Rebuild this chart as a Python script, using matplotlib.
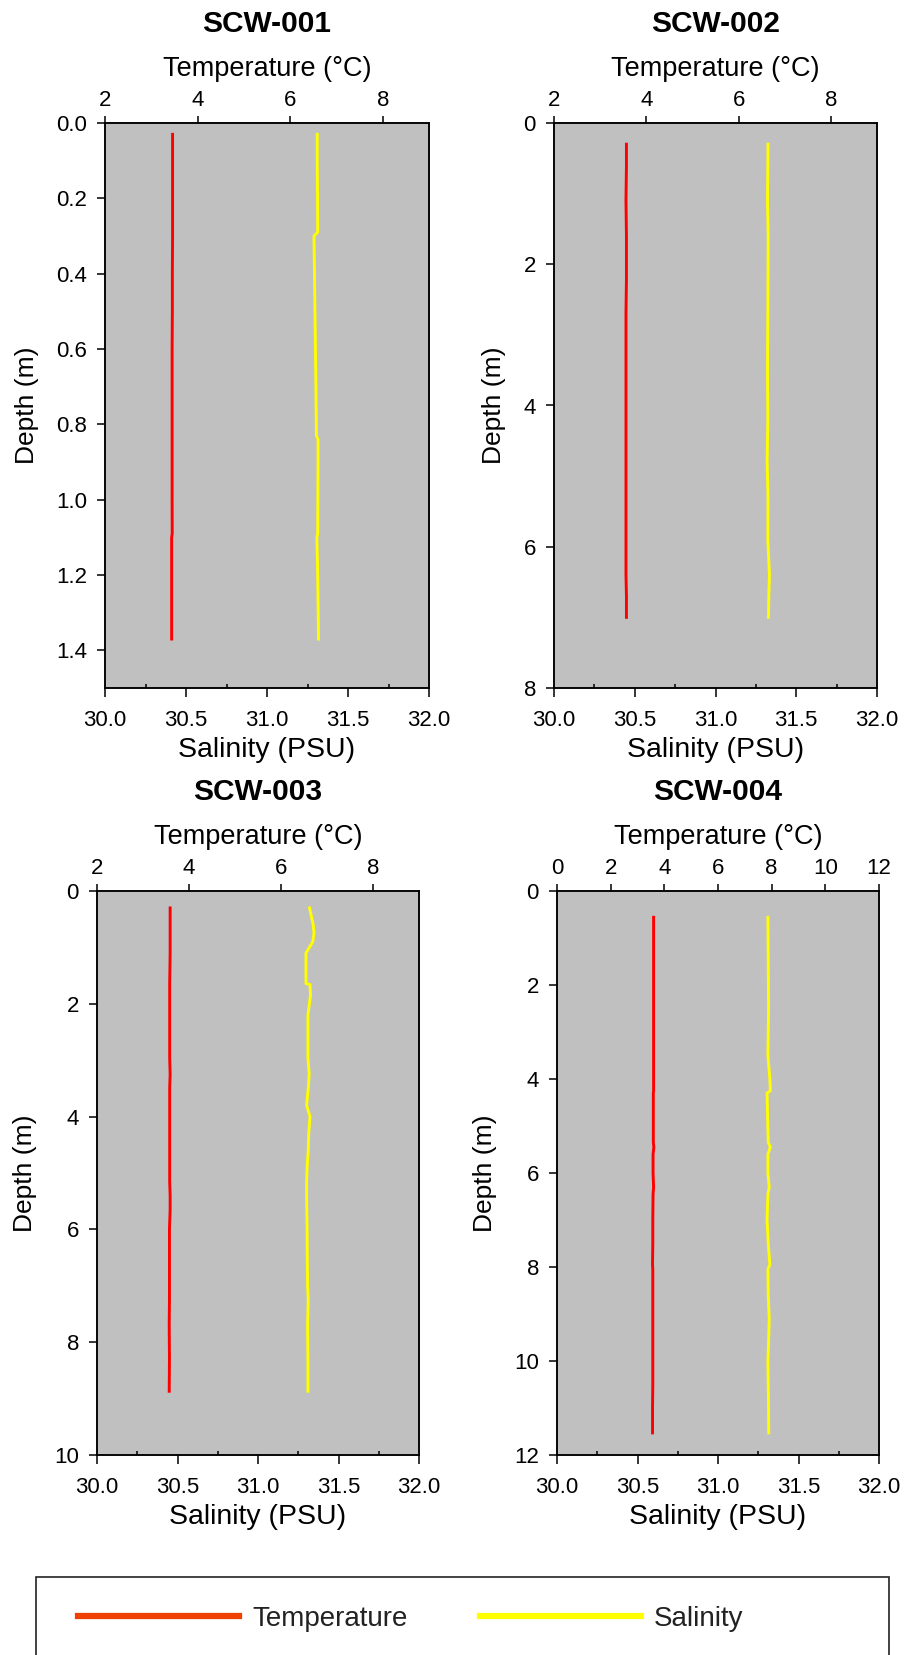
import matplotlib.pyplot as plt
from matplotlib.lines import Line2D
from matplotlib.patches import Rectangle
from matplotlib.ticker import MultipleLocator, FormatStrFormatter

plt.rcParams['font.family'] = ['Liberation Sans', 'DejaVu Sans']

# ---- data ----
stations = ['SCW-001', 'SCW-002', 'SCW-003', 'SCW-004']

depth1 = [0.03, 0.1, 0.2, 0.29, 0.30, 0.4, 0.5, 0.6, 0.7, 0.83, 0.84, 0.9, 1.0, 1.09, 1.10, 1.2, 1.3, 1.37]
temp1 = [3.46, 3.46, 3.46, 3.46, 3.46, 3.455, 3.455, 3.45, 3.45, 3.45, 3.45, 3.45, 3.45, 3.452, 3.44, 3.44, 3.44, 3.44]
sal1 = [31.31, 31.31, 31.312, 31.313, 31.29, 31.293, 31.296, 31.299, 31.302, 31.305, 31.315, 31.315,
        31.314, 31.313, 31.308, 31.313, 31.316, 31.318]

depth2 = [0.3, 0.6, 1.1, 1.6, 2.2, 2.7, 3.5, 4.2, 4.8, 5.3, 5.9, 6.4, 6.7, 7.0]
temp2 = [3.57, 3.57, 3.56, 3.57, 3.57, 3.56, 3.56, 3.56, 3.56, 3.56, 3.56, 3.56, 3.57, 3.57]
sal2 = [31.325, 31.324, 31.322, 31.326, 31.325, 31.324, 31.322, 31.324, 31.32, 31.325, 31.324, 31.334, 31.33, 31.328]

depth3 = [0.3, 0.6, 0.75, 0.9, 1.1, 1.4, 1.64, 1.66, 1.85, 2.2, 2.6, 2.95, 3.25, 3.5, 3.8, 4.0, 4.3,
          4.6, 4.9, 5.15, 5.4, 5.65, 6.0, 6.5, 7.0, 7.25, 7.7, 8.3, 8.87]
temp3 = [3.59, 3.59, 3.59, 3.59, 3.59, 3.585, 3.58, 3.58, 3.58, 3.58, 3.58, 3.58, 3.59, 3.58, 3.58,
         3.58, 3.58, 3.58, 3.58, 3.58, 3.59, 3.59, 3.575, 3.575, 3.575, 3.575, 3.57, 3.575, 3.57]
sal3 = [31.32, 31.343, 31.348, 31.34, 31.298, 31.298, 31.298, 31.323, 31.326, 31.31, 31.31, 31.31,
        31.318, 31.312, 31.302, 31.323, 31.315, 31.312, 31.305, 31.302, 31.302, 31.303, 31.305, 31.306,
        31.308, 31.312, 31.308, 31.31, 31.31]

depth4 = [0.56, 1.5, 2.5, 3.5, 4.0, 4.25, 4.3, 4.8, 5.35, 5.45, 5.6, 6.0, 6.3, 6.45, 7.0, 7.5, 7.95,
          8.05, 8.6, 9.1, 9.6, 10.0, 10.5, 11.0, 11.53]
temp4 = [3.6, 3.6, 3.6, 3.6, 3.6, 3.6, 3.59, 3.59, 3.59, 3.61, 3.58, 3.58, 3.6, 3.58, 3.57, 3.57,
         3.56, 3.57, 3.57, 3.57, 3.57, 3.57, 3.57, 3.56, 3.56]
sal4 = [31.31, 31.312, 31.314, 31.31, 31.322, 31.325, 31.305, 31.308, 31.312, 31.325, 31.31, 31.31,
        31.318, 31.31, 31.305, 31.312, 31.322, 31.31, 31.312, 31.318, 31.314, 31.31, 31.312, 31.314, 31.315]

depths = [depth1, depth2, depth3, depth4]
temps = [temp1, temp2, temp3, temp4]
sals = [sal1, sal2, sal3, sal4]

depth_max = [1.5, 8, 10, 12]
depth_step = [0.2, 2, 2, 2]
temp_lim = [(2, 9), (2, 9), (2, 9), (0, 12)]
sal_lim = (30, 32)

# axes boxes in pixels (left, top, right, bottom)
boxes = [(105, 123, 429, 688), (554, 123, 877, 688),
         (97, 891, 419, 1455), (557, 891, 879, 1455)]

W, H = 906, 1655
fig = plt.figure(figsize=(W / 100, H / 100), dpi=100)

for i in range(4):
    l, t, r, b = boxes[i]
    ax = fig.add_axes([l / W, 1 - b / H, (r - l) / W, (b - t) / H])
    ax.set_facecolor('#c0c0c0')
    ax.plot(sals[i], depths[i], color='#ffff00', lw=2.1, zorder=3)
    ax.set_xlim(*sal_lim)
    ax.set_ylim(depth_max[i], 0)
    ax.xaxis.set_major_locator(MultipleLocator(0.5))
    ax.xaxis.set_minor_locator(MultipleLocator(0.25))
    ax.xaxis.set_major_formatter(FormatStrFormatter('%.1f'))
    ax.yaxis.set_major_locator(MultipleLocator(depth_step[i]))
    if i == 0:
        ax.yaxis.set_major_formatter(FormatStrFormatter('%.1f'))
    ax.tick_params(axis='x', which='major', direction='out', length=6.5, width=1.1,
                   labelsize=16, pad=9.5)
    ax.tick_params(axis='x', which='minor', direction='in', length=3.2, width=1.1)
    ax.tick_params(axis='y', which='major', direction='out', length=6, width=1.1,
                   labelsize=16, pad=7)
    ax.tick_params(axis='y', which='minor', left=False)
    ax.set_xlabel('Salinity (PSU)', fontsize=20.5, labelpad=4)
    ax.set_ylabel('Depth (m)', fontsize=19, labelpad=12.5)
    for s in ax.spines.values():
        s.set_linewidth(1.1)

    tw = ax.twiny()
    tw.plot(temps[i], depths[i], color='#ff0000', lw=2.1, zorder=3)
    tw.set_xlim(*temp_lim[i])
    tw.xaxis.set_major_locator(MultipleLocator(2))
    tw.tick_params(axis='x', which='major', direction='out', length=5, width=1.1,
                   labelsize=16, pad=4)
    tw.set_xlabel('Temperature (°C)', fontsize=19.5, labelpad=9.5)
    for s in tw.spines.values():
        s.set_linewidth(1.1)

    ax.text(0.5, 1 + 91 / (b - t), stations[i], transform=ax.transAxes,
            ha='center', va='baseline', fontsize=21.5, fontweight='bold')

# legend box, runs off the bottom edge
fig.patches.append(Rectangle((36 / W, -0.02), (889 - 36) / W, 0.02 + 1 - 1577 / H,
                             transform=fig.transFigure, fill=False,
                             edgecolor='#222222', lw=1.2))
handles = [Line2D([], [], color='#f04000', lw=4.5),
           Line2D([], [], color='#ffff00', lw=4.5)]
fig.legend(handles, ['Temperature', 'Salinity'], loc='center left',
           bbox_to_anchor=(78 / W, 1 - 1619 / H), ncol=2, frameon=False,
           borderpad=0, borderaxespad=0, handlelength=5.8, handletextpad=0.47,
           columnspacing=2.6, fontsize=20, labelcolor='#222222')

fig.savefig('out.png', dpi=100)
